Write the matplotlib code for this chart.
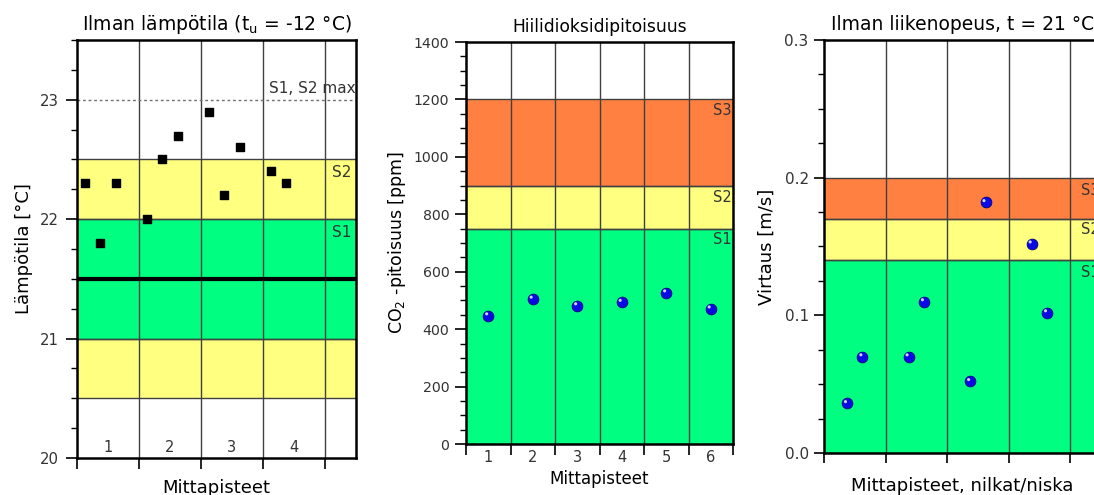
import matplotlib
matplotlib.use("Agg")
import matplotlib.pyplot as plt
from matplotlib.transforms import offset_copy, blended_transform_factory
from matplotlib.ticker import MultipleLocator, FixedLocator, NullFormatter, FormatStrFormatter

plt.rcParams['font.family'] = ['DejaVu Sans']

# ---------------- data ----------------
# Panel 1: air temperature
temp_x = [0.125, 0.375, 0.625, 1.125, 1.375, 1.625, 2.125, 2.375, 2.625, 3.125, 3.375]
temp_y = [22.3, 21.8, 22.3, 22.0, 22.5, 22.7, 22.9, 22.2, 22.6, 22.4, 22.3]
temp_groups = ["1", "2", "3", "4"]
temp_bands = [(22.0, 22.5, "yellow"), (21.0, 22.0, "green"), (20.5, 21.0, "yellow")]
temp_class_labels = [("S2", 22.39), ("S1", 21.89)]
temp_target = 21.5
temp_max = 23.0

# Panel 2: CO2
co2_points = [1, 2, 3, 4, 5, 6]
co2_values = [447, 505, 482, 494, 527, 471]
co2_bands = [(0, 750, "green"), (750, 900, "yellow"), (900, 1200, "orange")]
co2_class_labels = [("S3", 1163), ("S2", 860), ("S1", 711)]

# Panel 3: air velocity
vel_x = [0.375, 0.625, 1.375, 1.625, 2.375, 2.625, 3.375, 3.625]
vel_y = [0.036, 0.070, 0.070, 0.110, 0.052, 0.182, 0.152, 0.102]
vel_bands = [(0.0, 0.14, "green"), (0.14, 0.17, "yellow"), (0.17, 0.20, "orange")]
vel_class_labels = [("S3", 0.191), ("S2", 0.162), ("S1", 0.131)]

COLORS = {"green": "#00FF80", "yellow": "#FFFF80", "orange": "#FF8040"}
GRID = "#404040"
TXT = "#333333"

W, H = 1094, 495
fig = plt.figure(figsize=(W / 100, H / 100), dpi=100)


def rect(l, t, r, b):
    return [l / W, (H - b) / H, (r - l) / W, (b - t) / H]


def style_axes(ax, labelsize):
    for s in ax.spines.values():
        s.set_linewidth(1.8)
        s.set_color("black")
    ax.tick_params(axis="both", which="major", direction="out", length=8, width=1.2,
                   labelsize=labelsize, colors="black", labelcolor=TXT, pad=4)
    ax.tick_params(axis="both", which="minor", direction="out", length=4, width=1.0)
    ax.tick_params(top=False, right=False)


def bands(ax, band_list):
    for lo, hi, c in band_list:
        ax.axhspan(lo, hi, facecolor=COLORS[c], edgecolor="none", zorder=0)
        for yv in (lo, hi):
            ax.axhline(yv, color=GRID, lw=1.0, zorder=1)


def spheres(ax, xs, ys):
    ax.scatter(xs, ys, s=60, c="#0A0AE6", edgecolors="#000080", linewidths=0.6, zorder=5)
    tr = offset_copy(ax.transData, fig=fig, x=-1.6, y=1.8, units="dots")
    ax.scatter(xs, ys, s=5, c="#CFD8FF", edgecolors="none", transform=tr, zorder=6)


# ---------------- Panel 1 ----------------
ax1 = fig.add_axes(rect(77, 40, 356, 458))
ax1.set_xlim(0, 4.5)
ax1.set_ylim(20, 23.5)
bands(ax1, temp_bands)
for xv in range(1, 5):
    ax1.axvline(xv, color=GRID, lw=1.0, zorder=1)
ax1.axhline(temp_target, color="black", lw=3, zorder=3)
ax1.axhline(temp_max, color="#707070", lw=1.0, ls=(0, (2, 2)), zorder=2)
ax1.scatter(temp_x, temp_y, marker="s", s=40, c="black", zorder=5)
trb1 = blended_transform_factory(ax1.transAxes, ax1.transData)
ax1.text(0.998, temp_max + 0.03, "S1, S2 max", transform=trb1, ha="right", va="bottom",
         fontsize=11, color=TXT)
for lab, yv in temp_class_labels:
    ax1.text(0.985, yv, lab, transform=trb1, ha="right", va="center", fontsize=11, color=TXT)
for i, lab in enumerate(temp_groups):
    ax1.text(i + 0.5, 20.09, lab, ha="center", va="center", fontsize=10.5, color=TXT)
ax1.xaxis.set_major_locator(FixedLocator([0, 1, 2, 3, 4]))
ax1.xaxis.set_major_formatter(NullFormatter())
ax1.yaxis.set_major_locator(MultipleLocator(1))
ax1.yaxis.set_minor_locator(MultipleLocator(0.25))
style_axes(ax1, 10.7)
ax1.tick_params(axis="y", which="major", pad=5)
ax1.set_title("Ilman lämpötila (t$_\\mathregular{u}$ = -12 °C)", fontsize=13.5, color="black", pad=7)
ax1.set_ylabel("Lämpötila [°C]", fontsize=13, labelpad=5)
ax1.set_xlabel("Mittapisteet", fontsize=13, labelpad=3)

# ---------------- Panel 2 ----------------
ax2 = fig.add_axes(rect(466, 42, 733, 444))
ax2.set_xlim(0.5, 6.5)
ax2.set_ylim(0, 1400)
bands(ax2, co2_bands)
for k in range(1, 6):
    ax2.axvline(k + 0.5, color=GRID, lw=1.0, zorder=1)
spheres(ax2, co2_points, co2_values)
trb2 = blended_transform_factory(ax2.transAxes, ax2.transData)
for lab, yv in co2_class_labels:
    ax2.text(0.995, yv, lab, transform=trb2, ha="right", va="center", fontsize=10.5, color=TXT)
ax2.xaxis.set_major_locator(FixedLocator([k + 0.5 for k in range(0, 7)]))
ax2.xaxis.set_major_formatter(NullFormatter())
ax2.xaxis.set_minor_locator(FixedLocator(co2_points))
ax2.set_xticklabels([str(p) for p in co2_points], minor=True)
ax2.yaxis.set_major_locator(MultipleLocator(200))
ax2.yaxis.set_minor_locator(MultipleLocator(50))
style_axes(ax2, 10.2)
ax2.tick_params(axis="x", which="minor", length=0, labelsize=10.5, labelcolor=TXT, pad=4)
ax2.set_title("Hiilidioksidipitoisuus", fontsize=12.3, color="black", pad=7)
ax2.set_ylabel("CO$_\\mathregular{2}$ -pitoisuus [ppm]", fontsize=12.5, labelpad=4)
ax2.set_xlabel("Mittapisteet", fontsize=12, labelpad=4)

# ---------------- Panel 3 ----------------
ax3 = fig.add_axes(rect(824, 40, 1101, 453))
ax3.set_xlim(0, 4.5)
ax3.set_ylim(0, 0.3)
bands(ax3, vel_bands)
for xv in range(1, 5):
    ax3.axvline(xv, color=GRID, lw=1.0, zorder=1)
spheres(ax3, vel_x, vel_y)
trb3 = blended_transform_factory(ax3.transAxes, ax3.transData)
for lab, yv in vel_class_labels:
    ax3.text(0.995, yv, lab, transform=trb3, ha="right", va="center", fontsize=10.5, color=TXT)
ax3.xaxis.set_major_locator(FixedLocator([0, 1, 2, 3, 4]))
ax3.xaxis.set_major_formatter(NullFormatter())
ax3.yaxis.set_major_locator(MultipleLocator(0.1))
ax3.yaxis.set_minor_locator(MultipleLocator(0.025))
ax3.yaxis.set_major_formatter(FormatStrFormatter("%.1f"))
style_axes(ax3, 11)
ax3.tick_params(axis="both", which="major", length=7)
ax3.set_title("Ilman liikenopeus, t = 21 °C", fontsize=13.5, color="black", pad=7)
ax3.set_ylabel("Virtaus [m/s]", fontsize=13, labelpad=6)
ax3.set_xlabel("Mittapisteet, nilkat/niska", fontsize=13, labelpad=6)

fig.savefig("out.png", dpi=100)
